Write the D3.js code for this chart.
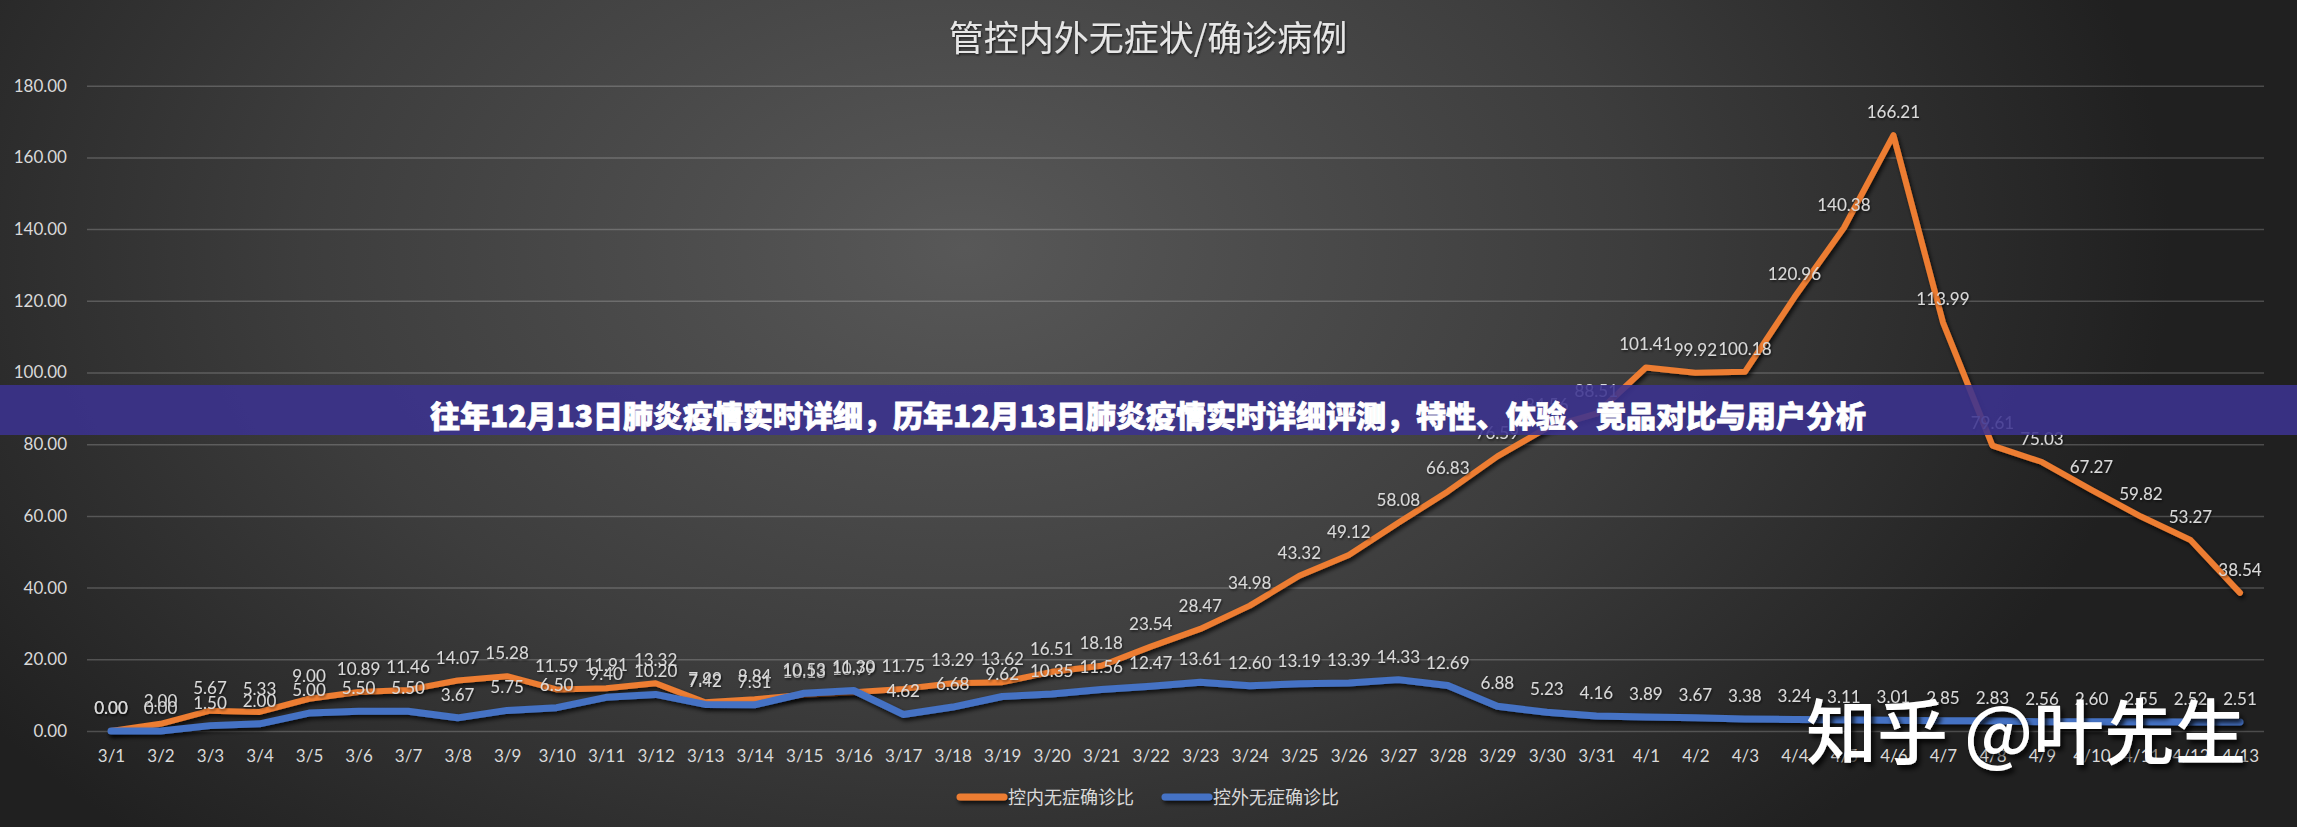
<!DOCTYPE html>
<html>
<head>
<meta charset="utf-8">
<script src="https://cdn.jsdelivr.net/npm/d3@7/dist/d3.min.js"></script>
<style>
html,body{margin:0;padding:0;background:#2a2a2a;overflow:hidden;}
svg{display:block;}
</style>
</head>
<body>
<svg id="chart" width="2297" height="827"></svg>
<script>
const dates = ["3/1","3/2","3/3","3/4","3/5","3/6","3/7","3/8","3/9","3/10","3/11","3/12","3/13","3/14","3/15","3/16","3/17","3/18","3/19","3/20","3/21","3/22","3/23","3/24","3/25","3/26","3/27","3/28","3/29","3/30","3/31","4/1","4/2","4/3","4/4","4/5","4/6","4/7","4/8","4/9","4/10","4/11","4/12","4/13"];
const insideRatio = [0.00,2.00,5.67,5.33,9.00,10.89,11.46,14.07,15.28,11.59,11.91,13.32,7.99,8.84,10.13,10.79,11.75,13.29,13.62,16.51,18.18,23.54,28.47,34.98,43.32,49.12,58.08,66.83,76.59,84.56,88.51,101.41,99.92,100.18,120.96,140.38,166.21,113.99,79.61,75.03,67.27,59.82,53.27,38.54];
const outsideRatio = [0.00,0.00,1.50,2.00,5.00,5.50,5.50,3.67,5.75,6.50,9.40,10.20,7.42,7.31,10.53,11.30,4.62,6.68,9.62,10.35,11.56,12.47,13.61,12.60,13.19,13.39,14.33,12.69,6.88,5.23,4.16,3.89,3.67,3.38,3.24,3.11,3.01,2.85,2.83,2.56,2.60,2.55,2.52,2.51];
const yTicks = [0,20,40,60,80,100,120,140,160,180];
const seriesNames = ["控内无症确诊比","控外无症确诊比"];
const chartTitle = "管控内外无症状/确诊病例";
const bannerText = "往年12月13日肺炎疫情实时详细，历年12月13日肺炎疫情实时详细评测，特性、体验、竞品对比与用户分析";
const watermark = "知乎 @叶先生";

const W = 2297, H = 827;
const svg = d3.select("#chart");
const defs = svg.append("defs");

const bg = defs.append("radialGradient").attr("id","bg")
  .attr("cx","42%").attr("cy","30%").attr("r","70%")
  .attr("gradientTransform","translate(0.42,0.3) scale(0.75,1.4) translate(-0.42,-0.3)");
bg.append("stop").attr("offset","0%").attr("stop-color","#585858");
bg.append("stop").attr("offset","55%").attr("stop-color","#3d3d3d");
bg.append("stop").attr("offset","100%").attr("stop-color","#202020");

const sh = defs.append("filter").attr("id","lineShadow").attr("filterUnits","userSpaceOnUse")
  .attr("x",0).attr("y",0).attr("width",W).attr("height",H);
sh.append("feDropShadow").attr("dx",2).attr("dy",3).attr("stdDeviation",2).attr("flood-color","#000").attr("flood-opacity",0.75);
const tsh = defs.append("filter").attr("id","textShadow").attr("x","-10%").attr("y","-30%").attr("width","120%").attr("height","160%");
tsh.append("feDropShadow").attr("dx",1).attr("dy",1.5).attr("stdDeviation",1).attr("flood-color","#000").attr("flood-opacity",0.6);
const wsh = defs.append("filter").attr("id","wmShadow").attr("x","-10%").attr("y","-30%").attr("width","120%").attr("height","160%");
wsh.append("feDropShadow").attr("dx",3).attr("dy",4).attr("stdDeviation",2.5).attr("flood-color","#000").attr("flood-opacity",0.85);

svg.append("rect").attr("width",W).attr("height",H).attr("fill","url(#bg)");

const x = d3.scalePoint().domain(dates).range([111, 2240]);
const y = d3.scaleLinear().domain([0,180]).range([731, 85.7]);
const plotLeft = 87, plotRight = 2264;

// gridlines
svg.append("g").attr("transform",`translate(${plotLeft},0)`)
  .call(d3.axisLeft(y).tickValues(yTicks).tickSize(-(plotRight-plotLeft)).tickFormat(""))
  .call(g=>g.select(".domain").remove())
  .call(g=>g.selectAll(".tick line").attr("stroke","rgba(255,255,255,0.2)").attr("stroke-width",1.5));

// y axis labels
svg.append("g").attr("transform",`translate(${plotLeft},0)`)
  .call(d3.axisLeft(y).tickValues(yTicks).tickSize(0).tickPadding(20).tickFormat(d3.format(".2f")))
  .call(g=>g.select(".domain").remove())
  .call(g=>g.selectAll("text").attr("fill","#d9d9d9").attr("font-family","Lato").attr("font-size",17));

// x axis labels
svg.append("g").attr("transform",`translate(0,${y(0)})`)
  .call(d3.axisBottom(x).tickSize(0).tickPadding(19))
  .call(g=>g.select(".domain").remove())
  .call(g=>g.selectAll("text").attr("fill","#d9d9d9").attr("font-family","Lato").attr("font-size",17));

// title
svg.append("text").attr("x",1148).attr("y",51).attr("text-anchor","middle")
  .attr("font-family","'Noto Sans CJK SC'").attr("font-size",35).attr("fill","#e6e6e6")
  .attr("filter","url(#textShadow)").text(chartTitle);

const series = [
  {name: seriesNames[0], values: insideRatio, color: "#ED7D31", width: 6},
  {name: seriesNames[1], values: outsideRatio, color: "#4472C4", width: 7}
];

const line = d3.line().x((d,i)=>x(dates[i])).y(d=>y(d));
series.forEach(s=>{
  svg.append("path").datum(s.values).attr("d",line).attr("fill","none")
    .attr("stroke",s.color).attr("stroke-width",s.width).attr("stroke-linejoin","round")
    .attr("stroke-linecap","round").attr("filter","url(#lineShadow)");
});

series.forEach(s=>{
  svg.append("g").selectAll("text").data(s.values).join("text")
    .attr("x",(d,i)=>x(dates[i])).attr("y",d=>y(d)-17)
    .attr("text-anchor","middle").attr("font-family","Lato").attr("font-size",17)
    .attr("fill","#d9d9d9").attr("filter","url(#textShadow)")
    .text(d=>d3.format(".2f")(d));
});

// legend
const legend = svg.append("g");
const legendItems = [{x0:960, tx:1008}, {x0:1165, tx:1213}];
series.forEach((s,i)=>{
  const it = legendItems[i];
  legend.append("line").attr("x1",it.x0).attr("x2",it.x0+44).attr("y1",797).attr("y2",797)
    .attr("stroke",s.color).attr("stroke-width",7).attr("stroke-linecap","round").attr("filter","url(#lineShadow)");
  legend.append("text").attr("x",it.tx).attr("y",803.5).attr("font-family","'Noto Sans CJK SC'")
    .attr("font-size",18).attr("fill","#d9d9d9").text(s.name);
});

// banner overlay
svg.append("rect").attr("x",0).attr("y",385).attr("width",W).attr("height",50)
  .attr("fill","#3b3290").attr("opacity",0.88);
svg.append("text").attr("x",1148).attr("y",427).attr("text-anchor","middle")
  .attr("font-family","'Noto Sans CJK SC'").attr("font-weight",900).attr("font-size",30)
  .attr("fill","#ffffff").attr("stroke","#ffffff").attr("stroke-width",0.8).text(bannerText);

// watermark
svg.append("text").attr("x",1806).attr("y",758)
  .attr("font-family","'Noto Sans CJK SC'").attr("font-size",71).attr("font-weight",500)
  .attr("fill","#ffffff").attr("filter","url(#wmShadow)").text(watermark);
</script>
</body>
</html>
